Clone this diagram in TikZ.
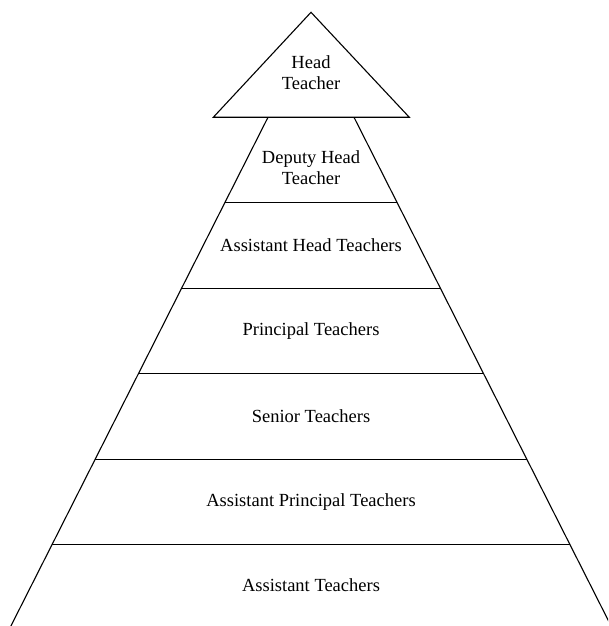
\documentclass[tikz,border=0pt]{standalone}
\usepackage{fontspec}
\setmainfont{Liberation Serif}
\begin{document}
\begin{tikzpicture}[x=1pt,y=1pt,
  edge/.style={draw=black,line width=1.1pt,line join=miter},
  label/.style={align=center,inner sep=0pt,font=\fontsize{18.5}{21.5}\selectfont}]
\useasboundingbox (0,0) rectangle (608,626);
\clip (0,0) rectangle (608,626);
% top triangle
\coordinate (apex) at (311,613.7);
\coordinate (tl) at (213.3,508.7);
\coordinate (tr) at (409.3,508.7);
\draw[edge] (tl) -- (apex) -- (tr) -- cycle;
% pyramid sides
\coordinate (s0l) at (268,508.7);  \coordinate (s0r) at (354,508.7);
\coordinate (s1l) at (224.8,423.25); \coordinate (s1r) at (397.2,423.25);
\coordinate (s2l) at (181.6,337.8); \coordinate (s2r) at (440.4,337.8);
\coordinate (s3l) at (138.4,252.4); \coordinate (s3r) at (483.6,252.4);
\coordinate (s4l) at (95.2,166.9);  \coordinate (s4r) at (526.8,166.9);
\coordinate (s5l) at (52,81.5);     \coordinate (s5r) at (570,81.5);
\coordinate (s6l) at (10.9,0);      \coordinate (s6r) at (611.1,0);
\draw[edge] (s0l) -- (s6l);
\draw[edge] (s0r) -- (s6r);
\draw[edge] (s1l) -- (s1r);
\draw[edge] (s2l) -- (s2r);
\draw[edge] (s3l) -- (s3r);
\draw[edge] (s4l) -- (s4r);
\draw[edge] (s5l) -- (s5r);
% labels
\node[label] (head) at (311,553.5) {Head\\Teacher};
\node[label] (deputy) at (311,458.5) {Deputy Head\\Teacher};
\node[label] (aht) at (311,380.5) {Assistant Head Teachers};
\node[label] (pt) at (311,295.1) {Principal Teachers};
\node[label] (st) at (311,209.7) {Senior Teachers};
\node[label] (apt) at (311,124.2) {Assistant Principal Teachers};
\node[label] (at) at (311,41) {Assistant Teachers};
\end{tikzpicture}
\end{document}
